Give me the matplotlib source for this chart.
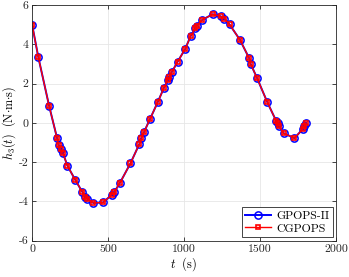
import matplotlib
matplotlib.use("Agg")
import matplotlib.pyplot as plt

plt.rcParams["font.family"] = "serif"
plt.rcParams["font.serif"] = ["cmr10", "DejaVu Serif"]
plt.rcParams["mathtext.fontset"] = "cm"
plt.rcParams["axes.unicode_minus"] = False
plt.rcParams["axes.formatter.use_mathtext"] = True

# time (s) and h3 (N.m.s)
t = [0, 41, 112, 164, 175, 189, 202, 232, 285, 329, 351, 362, 403, 467,
     526, 541, 579, 647, 706, 717, 737, 776, 827, 866, 893, 903, 919, 958,
     1007, 1044, 1075, 1083, 1119, 1188, 1242, 1264, 1299, 1368, 1428, 1439,
     1479, 1548, 1607, 1616, 1623, 1656, 1726, 1783, 1791, 1802]
h3 = [5.0, 3.34, 0.86, -0.77, -1.11, -1.35, -1.52, -2.18, -2.92, -3.50,
      -3.76, -3.86, -4.08, -4.05, -3.65, -3.52, -3.04, -2.06, -1.07, -0.79,
      -0.46, 0.20, 1.06, 1.76, 2.18, 2.35, 2.58, 3.12, 3.76, 4.43, 4.81,
      4.95, 5.24, 5.53, 5.42, 5.31, 5.01, 4.22, 3.29, 2.98, 2.30, 1.04,
      0.08, -0.02, -0.16, -0.53, -0.78, -0.30, -0.16, 0.0]

xticks = [0, 500, 1000, 1500, 2000]
yticks = [-6, -4, -2, 0, 2, 4, 6]

fig = plt.figure(figsize=(3.49, 2.77), dpi=100)
ax = fig.add_axes([0.092, 0.131, 0.871, 0.851])

ax.plot(t, h3, color="blue", lw=1.4, marker="o", ms=5.2, mfc="none",
        mec="blue", mew=1.1, label="GPOPS-II")
ax.plot(t, h3, color="red", lw=1.0, marker="s", ms=3.2, mfc="none",
        mec="red", mew=1.2, label="CGPOPS")

ax.set_xlim(0, 2000)
ax.set_ylim(-6, 6)
ax.set_xticks(xticks)
ax.set_yticks(yticks)
ax.set_xticklabels([str(v) for v in xticks])
ax.set_yticklabels([str(v) for v in yticks])
ax.tick_params(direction="in", length=3, width=0.6, labelsize=8.5,
               colors="#262626", top=True, right=True, pad=2.5)
ax.grid(True, color="#e6e6e6", lw=0.6)
ax.set_axisbelow(True)
for s in ax.spines.values():
    s.set_color("#262626")
    s.set_linewidth(0.6)

ax.set_xlabel(r"$t\ \ \mathrm{(s)}$", fontsize=9, labelpad=1)
ax.set_ylabel(r"$h_3(t)\ \ \mathrm{(N{\cdot}m{\cdot}s)}$", fontsize=8.8, labelpad=0.5)

leg = ax.legend(loc="lower right", fontsize=8.5, handlelength=2.2,
                borderpad=0.3, labelspacing=0.2, handletextpad=0.4,
                borderaxespad=0.3, fancybox=False, framealpha=1)
leg.get_frame().set_edgecolor("#262626")
leg.get_frame().set_linewidth(0.6)

fig.savefig("out.png", dpi=100)
